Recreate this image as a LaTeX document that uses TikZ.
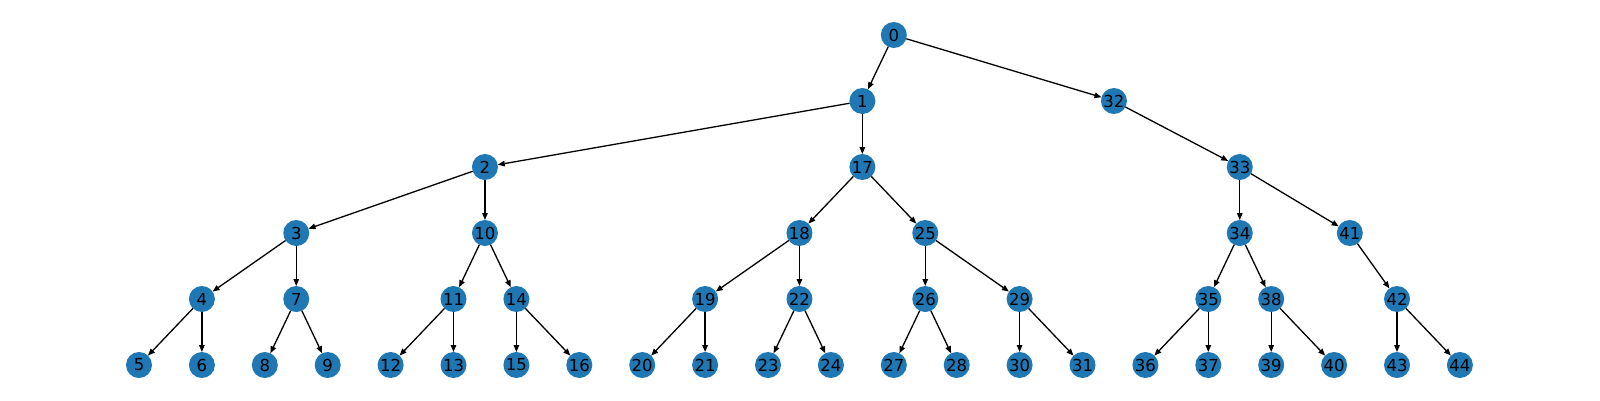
\documentclass[tikz,border=0pt]{standalone}
\usepackage{fontspec}
\setmainfont{DejaVu Sans}
\usepackage{tikz}
\usetikzlibrary{arrows.meta}
\definecolor{nodeblue}{HTML}{1F77B4}

\begin{document}
\begin{tikzpicture}[x=1pt, y=-1pt,
  vtx/.style={circle, fill=nodeblue, minimum size=26pt, inner sep=0pt, outer sep=0pt,
              font=\fontsize{16.5}{20}\selectfont},
  edge/.style={-{Triangle[length=7pt, width=5.5pt]}, line width=1.3pt, black},
]

  \useasboundingbox (0, 0) rectangle (1600, 400);

  % node name / slot across the leaves / depth
  \foreach \n/\u/\l in {0/12/0, 1/11.5/1, 32/15.5/1,
      2/5.5/2, 17/11.5/2, 33/17.5/2,
      3/2.5/3, 10/5.5/3, 18/10.5/3, 25/12.5/3, 34/17.5/3, 41/19.25/3,
      4/1/4, 7/2.5/4, 11/5/4, 14/6/4, 19/9/4, 22/10.5/4, 26/12.5/4, 29/14/4,
      35/17/4, 38/18/4, 42/20/4,
      5/0/5, 6/1/5, 8/2/5, 9/3/5, 12/4/5, 13/5/5, 15/6/5, 16/7/5, 20/8/5, 21/9/5,
      23/10/5, 24/11/5, 27/12/5, 28/13/5, 30/14/5, 31/15/5, 36/16/5, 37/17/5,
      39/18/5, 40/19/5, 43/20/5, 44/21/5} {
    \node[vtx] (n\n) at ({139 + 62.9 * \u}, {35 + 66 * \l}) {\n};
  }

  %
  \foreach \a/\b in {0/1, 0/32, 1/2, 1/17, 2/3, 2/10, 3/4, 3/7, 4/5, 4/6, 7/8, 7/9,
      10/11, 10/14, 11/12, 11/13, 14/15, 14/16, 17/18, 17/25, 18/19, 18/22,
      19/20, 19/21, 22/23, 22/24, 25/26, 25/29, 26/27, 26/28, 29/30, 29/31,
      32/33, 33/34, 33/41, 34/35, 34/38, 35/36, 35/37, 38/39, 38/40,
      41/42, 42/43, 42/44} {
    \draw[edge] (n\a) -- (n\b);
  }

\end{tikzpicture}
\end{document}
